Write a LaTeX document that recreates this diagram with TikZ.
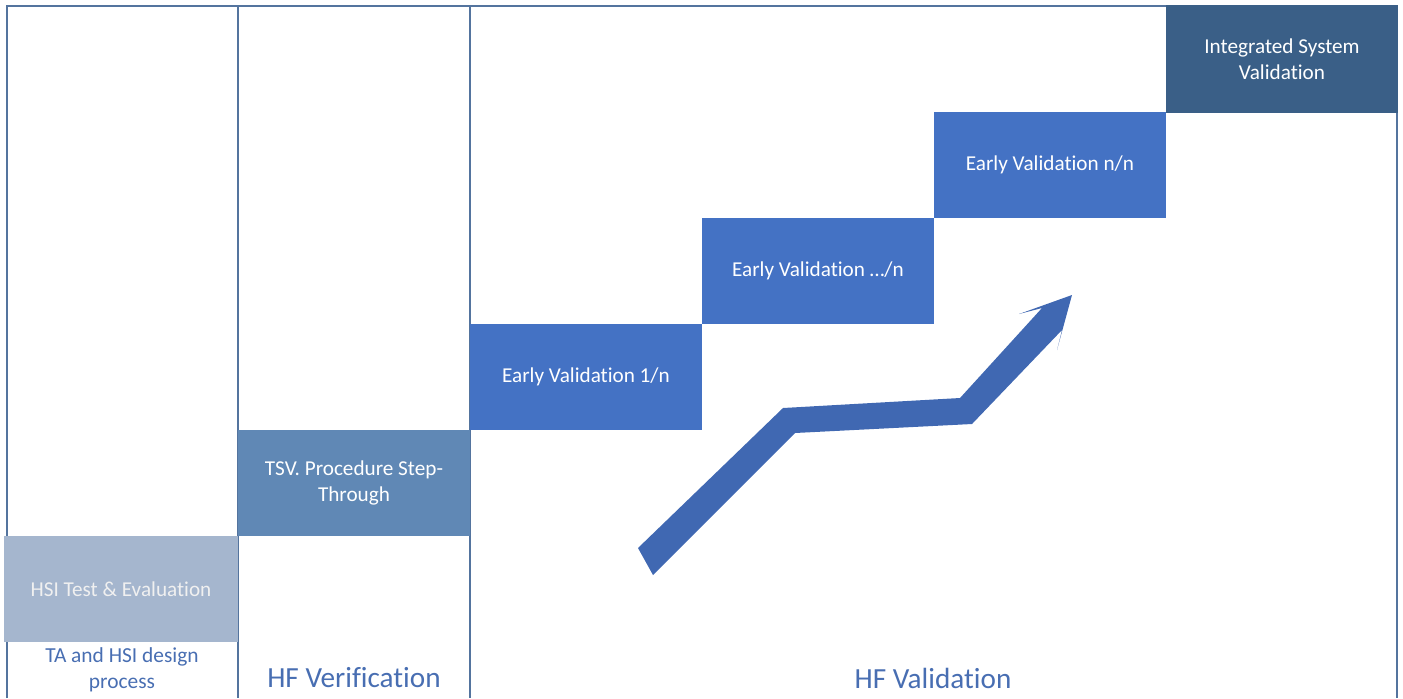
\documentclass[tikz,border=0pt]{standalone}
\usepackage{fontspec}
\setmainfont{Carlito}[RawFeature=-liga]
\usetikzlibrary{positioning}
\definecolor{frameblue}{RGB}{84,116,158}
\definecolor{stepblue}{RGB}{68,114,196}
\definecolor{hsiblue}{RGB}{165,182,206}
\definecolor{tsvblue}{RGB}{96,136,181}
\definecolor{isvblue}{RGB}{58,95,135}
\definecolor{arrowblue}{RGB}{64,104,178}
\definecolor{labelblue}{RGB}{72,110,178}

\begin{document}
\begin{tikzpicture}[x=0.5pt, y=-0.5pt,
  stage/.style={minimum width=116pt, minimum height=53pt, inner sep=0pt,
    outer sep=0pt, anchor=north west, text=white, align=center,
    font=\fontsize{10.6}{13}\selectfont},
  phase/.style={text=labelblue, align=center}]
\useasboundingbox (0,0) rectangle (1403,698);
% Coordinates
\coordinate (top-left) at (7,5.5);
\coordinate (top-right) at (1397,5.5);
\coordinate (col-a) at (238,5.5);
\coordinate (col-b) at (470,5.5);
% Draw frame
\draw[frameblue, line width=1pt] (7,698) -- (top-left) -- (top-right) -- (1397,698);
\draw[frameblue, line width=1pt] (col-a) -- (238,698);
\draw[frameblue, line width=1pt] (col-b) -- (470,698);
% Stages
\node[stage, fill=hsiblue, text=white!94!black, minimum width=117pt] (hsi) at (4,536)
  {\raisebox{-1pt}{HSI Test \& Evaluation}};
\node[stage, fill=tsvblue] (tsv) at (238,430) {TSV. Procedure Step-\\Through};
\node[stage, fill=stepblue] (early-1) at (470,324) {\raisebox{-1.5pt}{Early Validation 1/n}};
\node[stage, fill=stepblue] (early-dots) at (702,218) {\raisebox{-1.5pt}{Early Validation \dots/n}};
\node[stage, fill=stepblue] (early-n) at (934,112) {\raisebox{-1.5pt}{Early Validation n/n}};
\node[stage, fill=isvblue, minimum height=54pt] (integrated) at (1166,5) {Integrated System\\Validation};
% Rising arrow
\fill[arrowblue] (638,548) -- (783,408) -- (960,398) -- (1042,308) -- (1019,314)
  -- (1072,295) -- (1057,350) -- (1062,330) -- (972,424) -- (795,433)
  -- (653,575) -- cycle;
% Phase labels
\node[phase, font=\fontsize{10.7}{13}\selectfont] (design-label) at (122,670)
  {TA and HSI design\\process};
\node[phase, font=\fontsize{14.6}{17}\selectfont] (verif-label) at (354,678) {HF Verification};
\node[phase, font=\fontsize{14.6}{17}\selectfont] (valid-label) at (933,678) {HF Validation};
\end{tikzpicture}
\end{document}
